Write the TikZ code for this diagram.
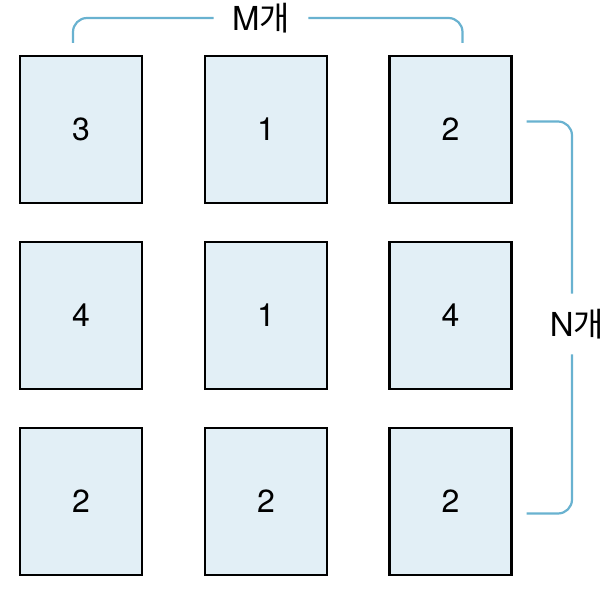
\documentclass[tikz,border=0pt]{standalone}
\usepackage{fontspec}
\setmainfont{TeX Gyre Heros}
\newfontfamily\krfont{Noto Sans CJK KR}
\usetikzlibrary{positioning, calc}
\definecolor{cellfill}{RGB}{226,239,246}
\definecolor{bracketblue}{RGB}{105,178,208}

\begin{document}
\begin{tikzpicture}[
    x=0.5pt, y=0.5pt,
    cell/.style={draw, line width=1.2pt, fill=cellfill, minimum width=61pt,
                 minimum height=73.5pt, inner sep=0pt, font=\fontsize{16}{19}\selectfont},
    brk/.style={bracketblue, line width=1.1pt, rounded corners=7pt},
    cnt/.style={font=\fontsize{16.5}{19}\selectfont, inner xsep=9pt, inner ysep=0pt,
                minimum height=30pt}
  ]
    \useasboundingbox (0,0) rectangle (616,596);

    %% Row 1
    \node[cell] (b11) at (81,466.5) {3};
    \node[cell] (b12) at (266,466.5) {1};
    \node[cell] (b13) at (450.5,466.5) {2};

    %% Row 2
    \node[cell] (b21) at (81,280.5) {4};
    \node[cell] (b22) at (266,280.5) {1};
    \node[cell] (b23) at (450.5,280.5) {4};

    %% Row 3
    \node[cell] (b31) at (81,94.5) {2};
    \node[cell] (b32) at (266,94.5) {2};
    \node[cell] (b33) at (450.5,94.5) {2};

    %% Counts
    \node[cnt] (mlbl) at (261,578) {M{\krfont 개}};
    \node[cnt, inner xsep=0pt] (nlbl) at (577,272) {N{\krfont 개}};

    %% Brackets
    \draw[brk] ([xshift=-4pt,yshift=6pt]b11.north) |- (mlbl.west);
    \draw[brk] (mlbl.east) -| ([xshift=6pt,yshift=6pt]b13.north);
    \draw[brk] ([xshift=7pt,yshift=4pt]b13.east) -| ([xshift=-2.5pt]nlbl.north);
    \draw[brk] ([xshift=7pt,yshift=-6pt]b33.east) -| ([xshift=-2.5pt]nlbl.south);
  \end{tikzpicture}
\end{document}
